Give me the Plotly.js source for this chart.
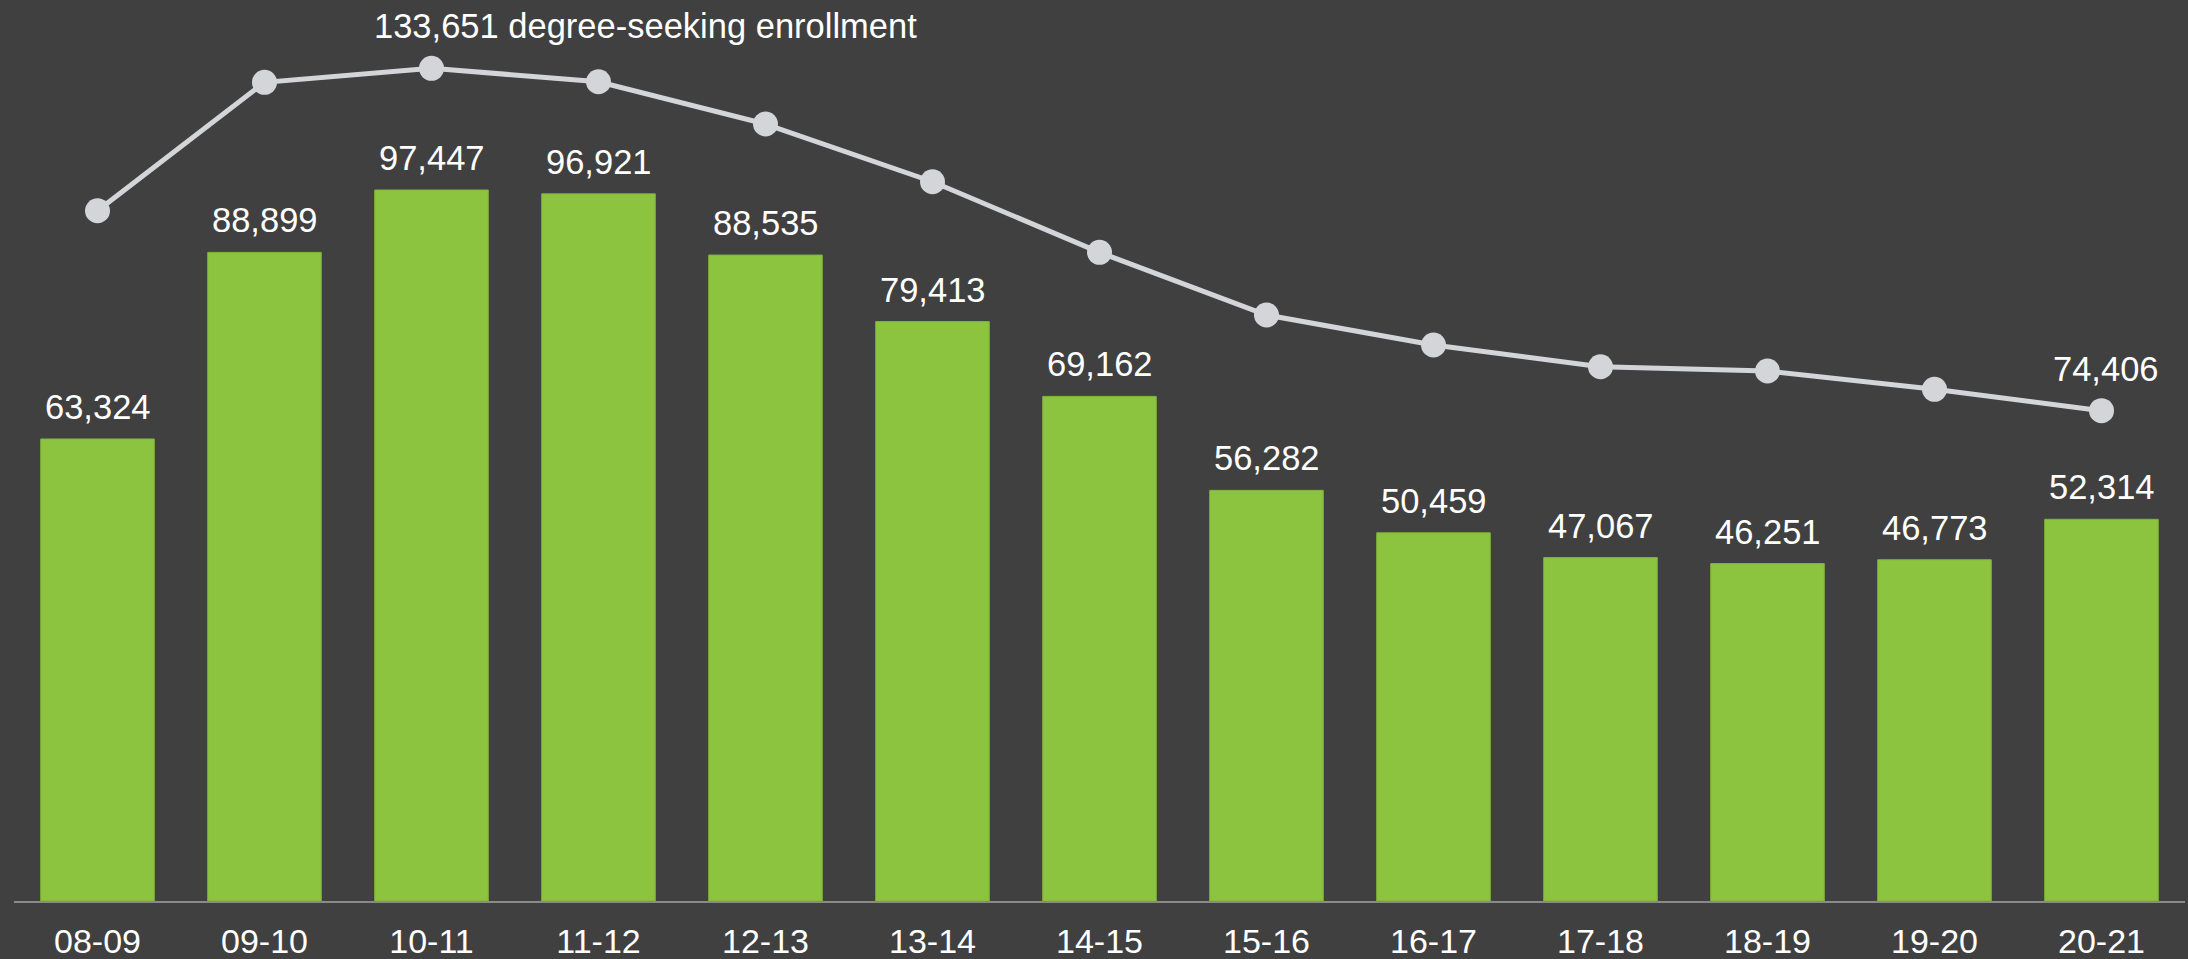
<!DOCTYPE html>
<html>
<head>
<meta charset="utf-8">
<script src="https://cdn.plot.ly/plotly-3.0.1.min.js"></script>
<style>
html,body{margin:0;padding:0;background:#404040;}
#chart{width:2188px;height:959px;}
</style>
</head>
<body>
<div id="chart"></div>
<script>
const years = ["08-09","09-10","10-11","11-12","12-13","13-14","14-15","15-16","16-17","17-18","18-19","19-20","20-21"];
const barValues = [63324,88899,97447,96921,88535,79413,69162,56282,50459,47067,46251,46773,52314];
const lineValues = [109010,131228,133651,131332,124013,114028,101812,90962,85771,82016,81272,78105,74406];
const lineLabels = {2: "133,651 degree-seeking enrollment", 12: "74,406"};

const fmt = v => v.toLocaleString("en-US");
const FONT = "Liberation Sans, Arial, sans-serif";
const FS = 34.5;

const bars = {
  type: "bar",
  x: years,
  y: barValues,
  marker: {color: "#8cc43f", line: {color: "#7fb53a", width: 1}},
  width: 0.68,
  hoverinfo: "x+y",
  yaxis: "y"
};
const line = {
  type: "scatter",
  mode: "lines+markers",
  x: years,
  y: lineValues,
  yaxis: "y2",
  line: {color: "#d4d5d8", width: 5},
  marker: {color: "#d4d5d8", size: 25},
  cliponaxis: false,
  hoverinfo: "x+y"
};

const annotations = [];
years.forEach((yr, i) => {
  annotations.push({
    x: yr, y: barValues[i], xref: "x", yref: "y",
    text: fmt(barValues[i]), showarrow: false,
    xanchor: "center", yanchor: "bottom", yshift: 11,
    font: {family: FONT, size: FS, color: "#ffffff"}
  });
});
Object.keys(lineLabels).forEach(k => {
  const i = +k;
  const first = i === 2;
  annotations.push({
    x: years[i], y: lineValues[i], xref: "x", yref: "y2",
    text: lineLabels[k], showarrow: false,
    xanchor: first ? "left" : "center", yanchor: "bottom",
    xshift: first ? -60 : 4, yshift: 21,
    font: {family: FONT, size: FS, color: "#ffffff"}
  });
});

const layout = {
  width: 2188, height: 959,
  paper_bgcolor: "#404040", plot_bgcolor: "#404040",
  margin: {l: 14, r: 3, t: 0, b: 58},
  showlegend: false,
  font: {family: FONT, color: "#ffffff"},
  xaxis: {
    type: "category", range: [-0.5, 12.5],
    showgrid: false, zeroline: false,
    showline: true, linecolor: "#8a8a8a", linewidth: 2,
    ticks: "", tickfont: {family: FONT, size: 34, color: "#ffffff"},
    ticklabelstandoff: 9
  },
  yaxis: {range: [0, 123490], visible: false, showgrid: false, zeroline: false},
  yaxis2: {range: [-10434, 145475], overlaying: "y", visible: false, showgrid: false, zeroline: false},
  annotations: annotations
};

Plotly.newPlot("chart", [bars, line], layout, {displayModeBar: false, staticPlot: true});
</script>
</body>
</html>
